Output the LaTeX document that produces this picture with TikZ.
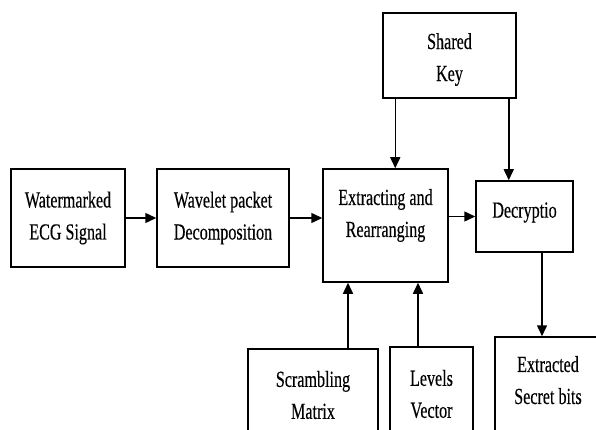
\documentclass[tikz,border=0pt]{standalone}
\usepackage{fontspec}
\setmainfont{Liberation Serif}[FakeStretch=0.70,FakeBold=0.3]
\usetikzlibrary{arrows.meta}

\begin{document}
\begin{tikzpicture}[x=1pt,y=-1pt,
    box/.style={draw, line width=1.5pt, align=center, inner sep=0pt,
        font=\fontsize{23}{32}\selectfont},
    arr/.style={line width=1.5pt, -{Triangle[length=11pt,width=10pt]}}]
        \useasboundingbox (0,0) rectangle (596,430);
        \clip (0,0) rectangle (596,430);
        % node
        \node[box, minimum width=114pt, minimum height=98pt] (wm) at (68,218) {Watermarked\\ECG Signal};
        \node[box, minimum width=132pt, minimum height=98pt] (wpd) at (223,218) {Wavelet packet\\Decomposition};
        \node[box, minimum width=125pt, minimum height=113pt, text depth=25pt] (ear) at (385.5,225.5) {Extracting and\\Rearranging};
        \node[box, minimum width=97pt, minimum height=71pt, text depth=13pt] (dec) at (524.5,216.5) {Decryptio};
        \node[box, minimum width=133pt, minimum height=85pt, text height=56pt] (key) at (449.5,55.5) {Shared\\Key};
        \node[box, minimum width=130pt, minimum height=92pt] (scr) at (313,395) {Scrambling\\Matrix};
        \node[box, minimum width=83pt, minimum height=94pt] (lev) at (431.5,394) {Levels\\Vector};
        \node[box, minimum width=106pt, minimum height=100pt, text depth=14pt] (ext) at (548,387) {Extracted\\Secret bits};
        % line
        \draw[arr] (wm.east) -- (wpd.west);
        \draw[arr] (wpd.east) -- (wpd.east -| ear.west);
        \draw[arr] (ear.east |- dec.west) -- (dec.west);
        \draw[arr] ([xshift=13pt]key.south west) -- ([xshift=13pt]key.south west |- ear.north);
        \draw[arr] ([xshift=-8pt]key.south east) -- ([xshift=-8pt]key.south east |- dec.north);
        \draw[arr] ([xshift=-6pt]ext.north |- dec.south) -- ([xshift=-6pt]ext.north);
        \draw[arr] ([xshift=35pt]scr.north) -- ([xshift=35pt]scr.north |- ear.south);
        \draw[arr] ([xshift=-13.5pt]lev.north) -- ([xshift=-13.5pt]lev.north |- ear.south);
\end{tikzpicture}
\end{document}
